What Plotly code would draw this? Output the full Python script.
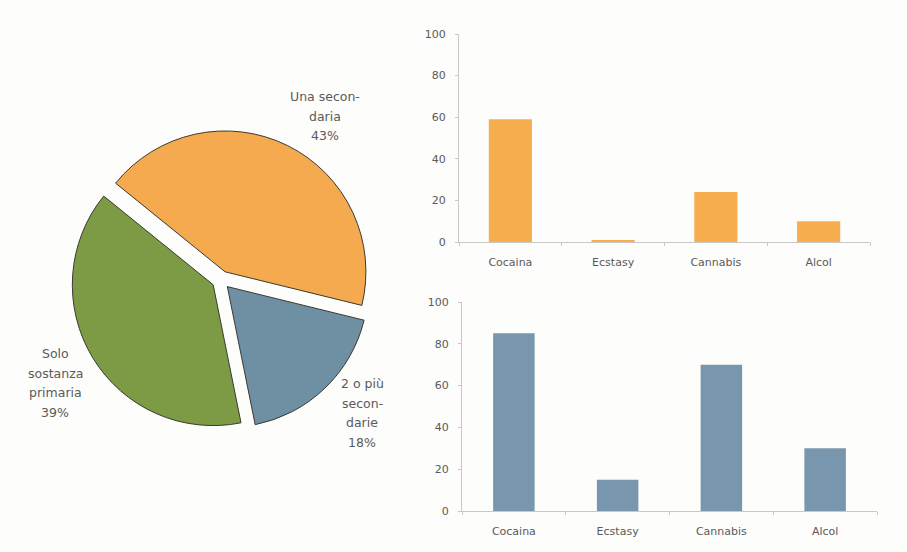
import plotly.graph_objects as go

# Pie data
pie_labels = ["Una secondaria", "2 o più secondarie", "Solo sostanza primaria"]
pie_values = [43, 18, 39]
pie_text_lines = [["Una secon-", "daria", "43%"],
                  ["2 o più", "secon-", "darie", "18%"],
                  ["Solo", "sostanza", "primaria", "39%"]]

# Bar data
categories = ["Cocaina", "Ecstasy", "Cannabis", "Alcol"]
top_values = [59, 0.6, 24, 10]
bottom_values = [85, 15, 70, 30]
y_ticks = [0, 20, 40, 60, 80, 100]

W, H = 907, 552
def px(x): return x / W
def py(y): return 1 - y / H

FONT = "DejaVu Sans, Verdana, sans-serif"
TXT = "#5a5a5a"

fig = go.Figure()

fig.add_trace(go.Pie(
    labels=pie_labels, values=pie_values, sort=False, direction="clockwise",
    rotation=309, pull=[0.065, 0.065, 0.065],
    marker=dict(colors=["#F6AA50", "#6F8FA3", "#7D9B45"], line=dict(color="#3a3a30", width=1)),
    textinfo="none", hoverinfo="label+percent", showlegend=False,
    domain=dict(x=[px(71), px(371)], y=[py(430), py(130)]),
))

fig.add_trace(go.Bar(x=categories, y=top_values, marker_color="#F7AE4F", width=0.42,
                     showlegend=False, xaxis="x", yaxis="y"))
fig.add_trace(go.Bar(x=categories, y=bottom_values, marker_color="#7896AD", width=0.4,
                     showlegend=False, xaxis="x2", yaxis="y2"))

axis_common_y = dict(range=[0, 100], tickvals=y_ticks, showgrid=False, zeroline=False,
                     showline=True, linecolor="#c8c8c8", linewidth=1, automargin=False,
                     ticks="outside", ticklen=3, tickcolor="#c8c8c8",
                     tickfont=dict(size=11, color=TXT, family=FONT), ticklabelstandoff=7)
axis_common_x = dict(showgrid=False, zeroline=False, showline=True, linecolor="#c8c8c8",
                     linewidth=1, ticks="outside", ticklen=3, tickcolor="#c8c8c8",
                     automargin=False,
                     tickson="boundaries", tickfont=dict(size=11, color=TXT, family=FONT),
                     ticklabelstandoff=10)

fig.update_layout(
    template="none",
    width=W, height=H, margin=dict(l=0, r=0, t=0, b=0, pad=0), autosize=False,
    paper_bgcolor="#FDFDFB", plot_bgcolor="#FDFDFB",
    font=dict(family=FONT, color=TXT),
    xaxis=dict(domain=[px(459), px(870)], anchor="y", **axis_common_x),
    yaxis=dict(domain=[py(242), py(34)], anchor="x", **axis_common_y),
    xaxis2=dict(domain=[px(462), px(877)], anchor="y2", **axis_common_x),
    yaxis2=dict(domain=[py(511), py(302)], anchor="x2", **axis_common_y),
)

# label block centres and line spacing
label_pos = [(325, 116), (362, 413), (55, 383)]
LINE = 19.5
for lines, (x, yc) in zip(pie_text_lines, label_pos):
    n = len(lines)
    for i, t in enumerate(lines):
        y = yc + (i - (n - 1) / 2) * LINE
        fig.add_annotation(text=t, x=px(x), y=py(y), xref="paper", yref="paper",
                           showarrow=False, xanchor="center", yanchor="middle",
                           font=dict(size=12.5, color=TXT, family=FONT))

fig.write_html("out.html", config={"displayModeBar": False},
               post_script="document.body.style.margin='0';document.body.style.overflow='hidden';")
